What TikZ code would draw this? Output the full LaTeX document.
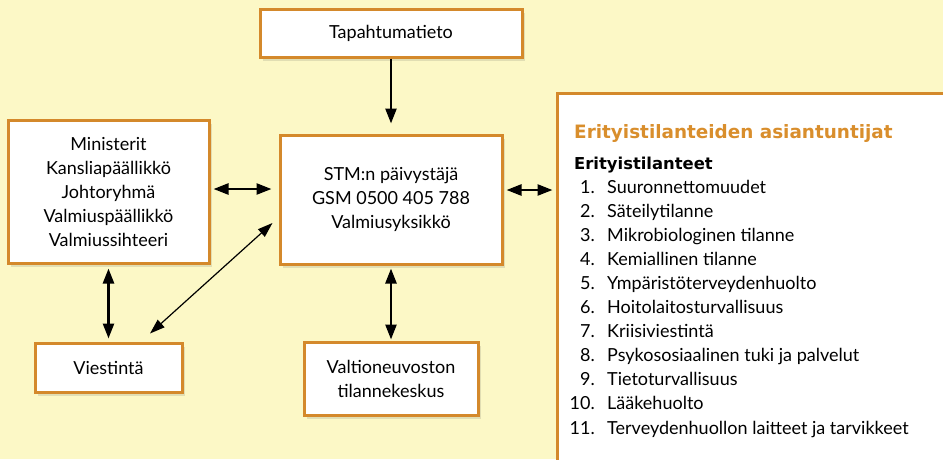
\documentclass[tikz,border=0pt]{standalone}
\usepackage{fontspec}
\setmainfont{Lato}
\newfontfamily\boldfam{DejaVu Sans}
\usetikzlibrary{arrows.meta,shadows}
\definecolor{bg}{HTML}{FCF8C6}
\definecolor{org}{HTML}{D4892B}
\definecolor{headc}{HTML}{D98E2C}
\tikzset{
  box/.style={draw=org, line width=3pt, fill=white, align=center, inner sep=0pt,
    drop shadow={shadow xshift=3pt, shadow yshift=-4pt, opacity=.15, fill=black!70}},
  dbl/.style={line width=2.5pt, {Triangle[length=15pt,width=11pt]}-{Triangle[length=15pt,width=11pt]}},
  sgl/.style={line width=2.5pt, -{Triangle[length=15pt,width=11pt]}},
  thinarr/.style={line width=1.2pt, {Triangle[length=15pt,width=10pt]}-{Triangle[length=15pt,width=10pt]}},
  itemtxt/.style={inner sep=0pt, anchor=base west},
  itemnum/.style={inner sep=0pt, anchor=base east}
}
\begin{document}
\begin{tikzpicture}[x=1pt, y=-1pt, font=\fontsize{18}{24}\selectfont]
\useasboundingbox (0,0) rectangle (943,459);
\clip (0,0) rectangle (943,459);
\fill[bg] (0,0) rectangle (943,459);

\node[box, minimum width=262pt, minimum height=48pt] (tap) at (391,33) {Tapahtumatieto};
\node[box, minimum width=222pt, minimum height=129pt] (stm) at (391,199.5) {STM:n päivystäjä\\GSM 0500 405 788\\Valmiusyksikkö};
\node[box, minimum width=201pt, minimum height=143pt] (min) at (108.5,191.5) {Ministerit\\Kansliapäällikkö\\Johtoryhmä\\Valmiuspäällikkö\\Valmiussihteeri};
\node[box, minimum width=147pt, minimum height=49pt] (viest) at (108.5,367.5) {Viestintä};
\node[box, minimum width=174pt, minimum height=73pt] (valt) at (391,378.5) {Valtioneuvoston\\tilannekeskus};
\node[box, minimum width=443pt, minimum height=407pt] (panel) at (778.5,296.5) {};

\node[itemtxt, text=headc, font=\boldfam\fontsize{18.4}{24}\selectfont\bfseries] (head) at (574,138) {Erityistilanteiden asiantuntijat};
\node[itemtxt, font=\boldfam\fontsize{16.4}{24}\selectfont\bfseries] (sub) at (574,169) {Erityistilanteet};
\foreach \t [count=\i] in {Suuronnettomuudet, Säteilytilanne, Mikrobiologinen tilanne, Kemiallinen tilanne, Ympäristöterveydenhuolto, Hoitolaitosturvallisuus, Kriisiviestintä, Psykososiaalinen tuki ja palvelut, Tietoturvallisuus, Lääkehuolto, Terveydenhuollon laitteet ja tarvikkeet}{
  \node[itemnum] (n\i) at (595,{193+(\i-1)*24.1}) {\i.};
  \node[itemtxt] (l\i) at (607,{193+(\i-1)*24.1}) {\t};
}

\draw[sgl, shorten >=10pt] (tap.south) -- (stm.north);
\draw[dbl, shorten <=3pt, shorten >=7pt] ([yshift=2.5pt]min.east) -- ([yshift=2.5pt]min.east -| stm.west);
\draw[dbl, shorten <=3pt, shorten >=3pt] ([yshift=9.5pt]stm.east) -- ([yshift=9.5pt]stm.east -| panel.west);
\draw[dbl, shorten <=4pt, shorten >=3pt] (min.south) -- (viest.north);
\draw[dbl, shorten <=3pt, shorten >=1pt] (stm.south) -- (valt.north);
\draw[thinarr] ([xshift=41.5pt, yshift=8pt]viest.north) -- ([xshift=-6pt, yshift=-23.5pt]stm.west);
\end{tikzpicture}
\end{document}
